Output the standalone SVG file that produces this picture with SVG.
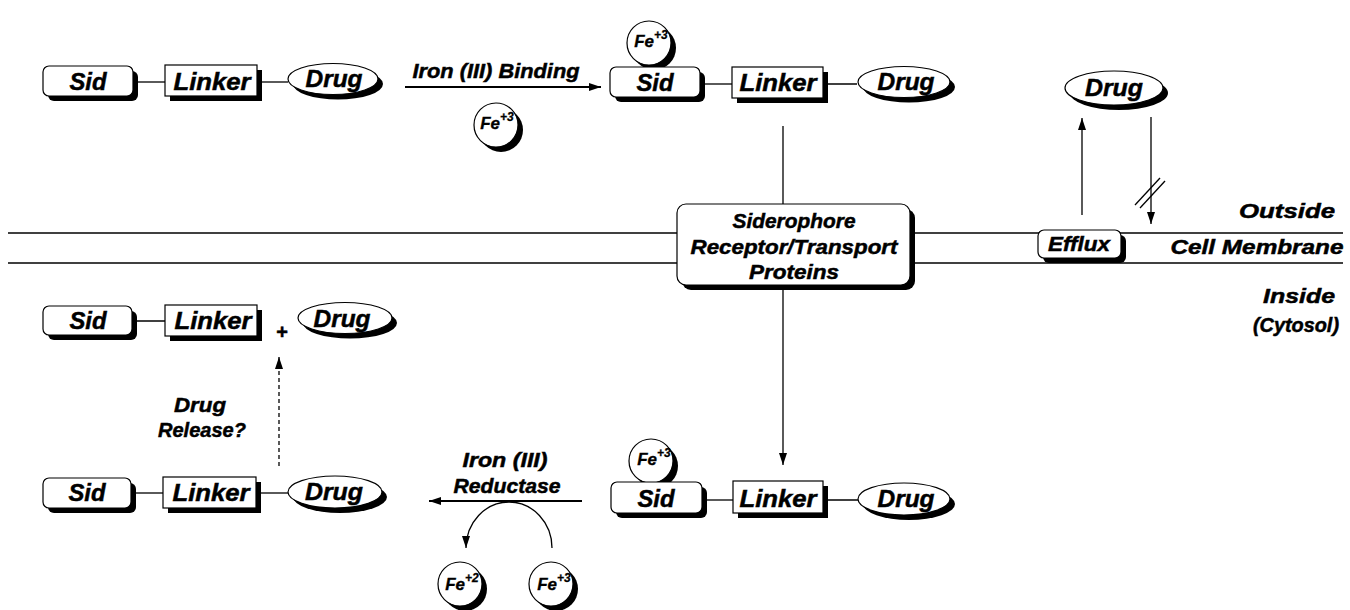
<svg xmlns="http://www.w3.org/2000/svg" width="1350" height="610" viewBox="0 0 1350 610">
<style>
.t{font-family:"Liberation Sans",Arial,Helvetica,sans-serif;font-weight:bold;font-style:italic;text-anchor:middle;fill:#000;stroke:#000;stroke-width:0.5}
.n{font-size:24px}
.l{font-size:21px}
.fe{font-size:17px;stroke-width:0.3}
.sup{font-size:12px}
.sh{fill:#000;stroke:none}
.bx{fill:#fff;stroke:#000;stroke-width:1.2}
.ln{stroke:#000;stroke-width:1.3;fill:none}
.ar{stroke:#000;stroke-width:1.3;fill:none;marker-end:url(#ah)}
.ar2{stroke:#000;stroke-width:2;fill:none;marker-end:url(#ah)}
</style>
<defs>
<marker id="ah" viewBox="0 0 12 8" refX="12" refY="4" markerWidth="12" markerHeight="8" markerUnits="userSpaceOnUse" orient="auto">
<path d="M0,0 L12,4 L0,8 z" fill="#000"/>
</marker>
</defs>
<rect width="1350" height="610" fill="#fff"/>

<g id="membrane">
<line class="ln" x1="8" y1="233" x2="1343" y2="233"/>
<line class="ln" x1="8" y1="263" x2="1343" y2="263"/>
</g>

<g id="connectors">
<line class="ln" x1="133" y1="82" x2="165" y2="82"/>
<line class="ln" x1="257" y1="82" x2="288" y2="82"/>
<line class="ar2" x1="405" y1="87" x2="601" y2="87"/>
<line class="ln" x1="700" y1="84" x2="732" y2="84"/>
<line class="ln" x1="823" y1="84" x2="857" y2="84"/>
<line class="ln" x1="783" y1="126" x2="783" y2="204"/>
<line class="ar" x1="783" y1="285" x2="783" y2="465"/>
<line class="ln" x1="702" y1="500" x2="733" y2="500"/>
<line class="ln" x1="823" y1="500" x2="858" y2="500"/>
<line class="ar2" x1="582" y1="501" x2="429" y2="501"/>
<path class="ar" d="M552,548 A43,46 0 0 0 466,548"/>
<line class="ln" x1="131" y1="493" x2="163" y2="493"/>
<line class="ln" x1="256" y1="493" x2="288" y2="493"/>
<line class="ar" x1="279" y1="466" x2="279" y2="357" stroke-dasharray="4,3"/>
<line class="ln" x1="132" y1="321" x2="165" y2="321"/>
<line class="ar" x1="1082" y1="215" x2="1082" y2="118"/>
<line class="ar" x1="1151" y1="117" x2="1151" y2="224"/>
<line class="ln" x1="1135" y1="205" x2="1160" y2="178"/>
<line class="ln" x1="1140" y1="208" x2="1165" y2="181"/>
</g>

<g id="sid1"><rect class="sh" x="48" y="71" width="90" height="30" rx="6"/><rect class="bx" x="43" y="66" width="90" height="30" rx="6"/><text class="t n" x="88" y="90" textLength="37" lengthAdjust="spacingAndGlyphs">Sid</text></g>
<g id="linker1"><rect class="sh" x="170" y="70" width="92" height="31"/><rect class="bx" x="165" y="65" width="92" height="31"/><text class="t n" x="212" y="90" textLength="77" lengthAdjust="spacingAndGlyphs">Linker</text></g>
<g id="drug1"><ellipse class="sh" cx="338" cy="84" rx="45" ry="15.5"/><ellipse class="bx" cx="333" cy="79" rx="45" ry="15.5"/><text class="t n" x="334" y="87" textLength="57" lengthAdjust="spacingAndGlyphs">Drug</text></g>

<g id="binding-label"><text class="t l" x="496" y="78" textLength="167" lengthAdjust="spacingAndGlyphs">Iron (III) Binding</text></g>
<g id="fe1"><circle class="sh" cx="501" cy="130" r="22"/><circle class="bx" cx="496" cy="125" r="22"/><text class="t fe" x="497" y="129">Fe<tspan class="sup" dy="-8">+3</tspan></text></g>

<g id="fe2"><circle class="sh" cx="654" cy="48" r="22"/><circle class="bx" cx="649" cy="43" r="22"/><text class="t fe" x="651" y="47">Fe<tspan class="sup" dy="-8">+3</tspan></text></g>
<g id="sid2"><rect class="sh" x="615" y="72" width="90" height="30" rx="6"/><rect class="bx" x="610" y="67" width="90" height="30" rx="6"/><text class="t n" x="655" y="91" textLength="37" lengthAdjust="spacingAndGlyphs">Sid</text></g>
<g id="linker2"><rect class="sh" x="737" y="72" width="91" height="31"/><rect class="bx" x="732" y="67" width="91" height="31"/><text class="t n" x="778" y="91" textLength="77" lengthAdjust="spacingAndGlyphs">Linker</text></g>
<g id="drug2"><ellipse class="sh" cx="909" cy="87" rx="46" ry="15.5"/><ellipse class="bx" cx="904" cy="82" rx="46" ry="15.5"/><text class="t n" x="906" y="90" textLength="57" lengthAdjust="spacingAndGlyphs">Drug</text></g>

<g id="transport"><rect class="sh" x="682" y="209" width="233" height="81" rx="9"/><rect class="bx" x="677" y="204" width="233" height="81" rx="9"/>
<text class="t l" x="794" y="228" textLength="123" lengthAdjust="spacingAndGlyphs">Siderophore</text>
<text class="t l" x="794" y="254" textLength="207" lengthAdjust="spacingAndGlyphs">Receptor/Transport</text>
<text class="t l" x="794" y="279" textLength="90" lengthAdjust="spacingAndGlyphs">Proteins</text></g>

<g id="drug-out"><ellipse class="sh" cx="1119" cy="93" rx="49" ry="17"/><ellipse class="bx" cx="1114" cy="88" rx="49" ry="17"/><text class="t n" x="1114" y="96" textLength="58" lengthAdjust="spacingAndGlyphs">Drug</text></g>
<g id="efflux"><rect class="sh" x="1043" y="235" width="83" height="28" rx="6"/><rect class="bx" x="1038" y="230" width="83" height="28" rx="6"/><text class="t l" x="1079" y="251" textLength="62" lengthAdjust="spacingAndGlyphs">Efflux</text></g>

<g id="labels-right">
<text class="t l" x="1287" y="218" textLength="96" lengthAdjust="spacingAndGlyphs">Outside</text>
<text class="t l" x="1257" y="254" textLength="173" lengthAdjust="spacingAndGlyphs">Cell Membrane</text>
<text class="t l" x="1299" y="303" textLength="72" lengthAdjust="spacingAndGlyphs">Inside</text>
<text class="t l" x="1296" y="332" textLength="86" lengthAdjust="spacingAndGlyphs">(Cytosol)</text>
</g>

<g id="fe3"><circle class="sh" cx="656" cy="466" r="22"/><circle class="bx" cx="651" cy="461" r="22"/><text class="t fe" x="654" y="465">Fe<tspan class="sup" dy="-8">+3</tspan></text></g>
<g id="sid3"><rect class="sh" x="616" y="487" width="91" height="31" rx="6"/><rect class="bx" x="611" y="482" width="91" height="31" rx="6"/><text class="t n" x="656" y="507" textLength="37" lengthAdjust="spacingAndGlyphs">Sid</text></g>
<g id="linker3"><rect class="sh" x="738" y="486" width="90" height="32"/><rect class="bx" x="733" y="481" width="90" height="32"/><text class="t n" x="778" y="507" textLength="77" lengthAdjust="spacingAndGlyphs">Linker</text></g>
<g id="drug3"><ellipse class="sh" cx="909" cy="504" rx="46" ry="16"/><ellipse class="bx" cx="904" cy="499" rx="46" ry="16"/><text class="t n" x="906" y="507" textLength="57" lengthAdjust="spacingAndGlyphs">Drug</text></g>

<g id="reductase-label">
<text class="t l" x="505" y="467" textLength="85" lengthAdjust="spacingAndGlyphs">Iron (III)</text>
<text class="t l" x="507" y="493" textLength="107" lengthAdjust="spacingAndGlyphs">Reductase</text>
</g>
<g id="fe-2"><circle class="sh" cx="465" cy="589" r="22"/><circle class="bx" cx="460" cy="584" r="22"/><text class="t fe" x="462" y="590">Fe<tspan class="sup" dy="-8">+2</tspan></text></g>
<g id="fe-3b"><circle class="sh" cx="556" cy="589" r="22"/><circle class="bx" cx="551" cy="584" r="22"/><text class="t fe" x="554" y="590">Fe<tspan class="sup" dy="-8">+3</tspan></text></g>

<g id="sid4"><rect class="sh" x="48" y="483" width="88" height="30" rx="6"/><rect class="bx" x="43" y="478" width="88" height="30" rx="6"/><text class="t n" x="87" y="501" textLength="37" lengthAdjust="spacingAndGlyphs">Sid</text></g>
<g id="linker4"><rect class="sh" x="168" y="482" width="93" height="31"/><rect class="bx" x="163" y="477" width="93" height="31"/><text class="t n" x="211" y="501" textLength="77" lengthAdjust="spacingAndGlyphs">Linker</text></g>
<g id="drug4"><ellipse class="sh" cx="340" cy="497" rx="47" ry="16"/><ellipse class="bx" cx="335" cy="492" rx="47" ry="16"/><text class="t n" x="334" y="500" textLength="58" lengthAdjust="spacingAndGlyphs">Drug</text></g>

<g id="release-label">
<text class="t l" x="200" y="412" textLength="52" lengthAdjust="spacingAndGlyphs">Drug</text>
<text class="t l" x="202" y="437" textLength="88" lengthAdjust="spacingAndGlyphs">Release?</text>
</g>

<g id="sid5"><rect class="sh" x="48" y="311" width="89" height="29" rx="6"/><rect class="bx" x="43" y="306" width="89" height="29" rx="6"/><text class="t n" x="88" y="329" textLength="37" lengthAdjust="spacingAndGlyphs">Sid</text></g>
<g id="linker5"><rect class="sh" x="170" y="310" width="92" height="31"/><rect class="bx" x="165" y="305" width="92" height="31"/><text class="t n" x="213" y="329" textLength="77" lengthAdjust="spacingAndGlyphs">Linker</text></g>
<g id="plus"><text class="t" style="font-size:20px;font-style:normal" x="282" y="339">+</text></g>
<g id="drug5"><ellipse class="sh" cx="350" cy="323" rx="47" ry="15.5"/><ellipse class="bx" cx="345" cy="318" rx="47" ry="15.5"/><text class="t n" x="342" y="327" textLength="57" lengthAdjust="spacingAndGlyphs">Drug</text></g>
</svg>
